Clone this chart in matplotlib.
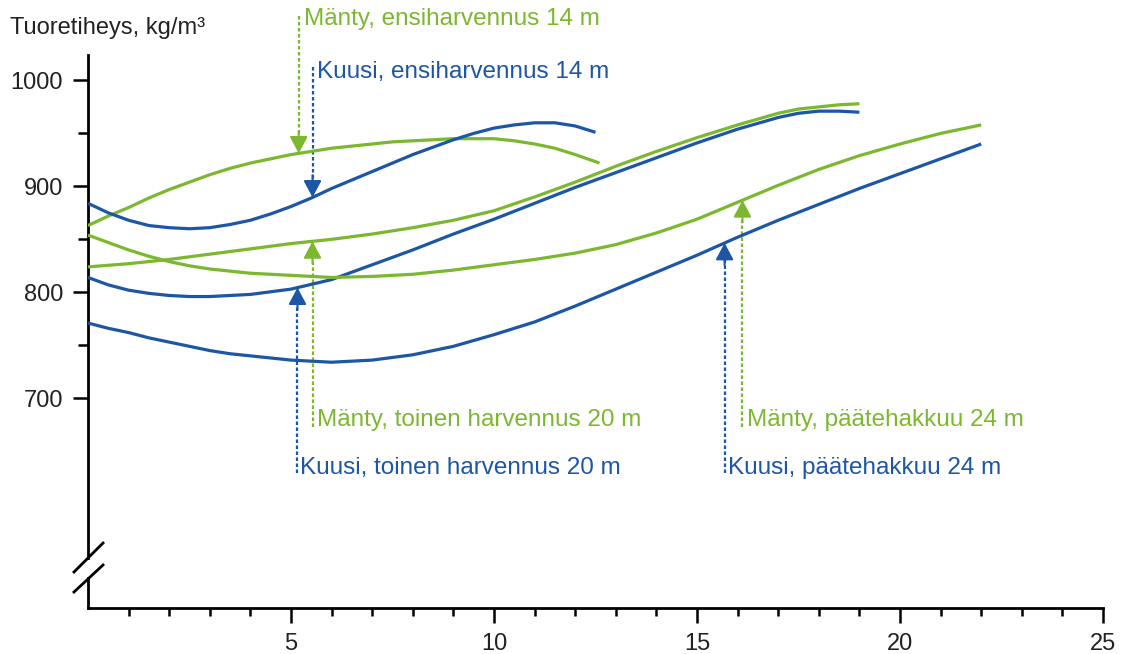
import numpy as np
import matplotlib.pyplot as plt
from matplotlib.ticker import FixedLocator

plt.rcParams['font.family'] = ['Liberation Sans', 'DejaVu Sans']

BLUE = "#1d56a5"
GREEN = "#7cb82f"

# age (x) and fresh density (kg/m3)
manty_ensi_x = [0, 0.5, 1, 1.5, 2, 2.5, 3, 3.5, 4, 4.5, 5, 5.5, 6, 6.5, 7, 7.5, 8, 8.5, 9,
                9.5, 10, 10.5, 11, 11.5, 12, 12.6]
manty_ensi_y = [863, 872, 880, 889, 897, 904, 911, 917, 922, 926, 930, 933, 936, 938, 940,
                942, 943, 944, 945, 945, 945, 943, 940, 936, 930, 922]

kuusi_ensi_x = [0, 0.5, 1, 1.5, 2, 2.5, 3, 3.5, 4, 4.5, 5, 5.5, 6, 6.5, 7, 7.5, 8, 8.5, 9,
                9.5, 10, 10.5, 11, 11.5, 12, 12.5]
kuusi_ensi_y = [884, 875, 868, 863, 861, 860, 861, 864, 868, 874, 881, 889, 898, 906, 914,
                922, 930, 937, 944, 950, 955, 958, 960, 960, 957, 951]

manty_toinen_x = [0, 1, 2, 3, 4, 5, 6, 7, 8, 9, 10, 11, 12, 13, 14, 15, 16, 17, 17.5, 18,
                  18.5, 19]
manty_toinen_y = [824, 827, 831, 836, 841, 846, 850, 855, 861, 868, 877, 890, 904, 919, 933,
                  946, 958, 969, 973, 975, 977, 978]

kuusi_toinen_x = [0, 0.5, 1, 1.5, 2, 2.5, 3, 3.5, 4, 5, 6, 7, 8, 9, 10, 11, 12, 13, 14, 15,
                  16, 17, 17.5, 18, 18.5, 19]
kuusi_toinen_y = [814, 807, 802, 799, 797, 796, 796, 797, 798, 803, 812, 826, 840, 855, 869,
                  884, 899, 913, 927, 941, 954, 965, 969, 971, 971, 970]

manty_paate_x = [0, 0.5, 1, 1.5, 2, 2.5, 3, 4, 5, 6, 7, 8, 9, 10, 11, 12, 13, 14, 15, 16,
                 17, 18, 19, 20, 21, 22]
manty_paate_y = [854, 847, 840, 834, 829, 825, 822, 818, 816, 814, 815, 817, 821, 826, 831,
                 837, 845, 856, 869, 885, 901, 916, 929, 940, 950, 958]

kuusi_paate_x = [0, 0.5, 1, 1.5, 2, 2.5, 3, 3.5, 4, 5, 6, 7, 8, 9, 10, 11, 12, 13, 14, 15,
                 16, 17, 18, 19, 20, 21, 22]
kuusi_paate_y = [771, 766, 762, 757, 753, 749, 745, 742, 740, 736, 734, 736, 741, 749, 760,
                 772, 787, 803, 819, 835, 852, 868, 883, 898, 912, 926, 940]

curves = [
    (manty_ensi_x, manty_ensi_y, GREEN),
    (kuusi_ensi_x, kuusi_ensi_y, BLUE),
    (manty_toinen_x, manty_toinen_y, GREEN),
    (kuusi_toinen_x, kuusi_toinen_y, BLUE),
    (manty_paate_x, manty_paate_y, GREEN),
    (kuusi_paate_x, kuusi_paate_y, BLUE),
]

# annotations: label, arrow x, label x, label y, end of the dashed line
labels = ["Mänty, ensiharvennus 14 m", "Kuusi, ensiharvennus 14 m",
          "Mänty, toinen harvennus 20 m", "Kuusi, toinen harvennus 20 m",
          "Mänty, päätehakkuu 24 m", "Kuusi, päätehakkuu 24 m"]
arrow_x = [5.19, 5.53, 5.53, 5.16, 16.12, 15.68]
label_x = [5.33, 5.65, 5.65, 5.22, 16.22, 15.76]
label_y = [1058, 1008, 679, 634, 679, 634]
line_end_y = [1061, 1013, 673, 629, 673, 629]

fig = plt.figure(figsize=(11.21, 6.54), dpi=100)
ax = fig.add_axes([88 / 1121, 1 - 608 / 654, 1015 / 1121, 553 / 654])

for x, y, c in curves:
    ax.plot(x, y, color=c, lw=2.3, solid_capstyle='butt', solid_joinstyle='round', zorder=3)

for i, lab in enumerate(labels):
    cx, cy, c = curves[i]
    tip = np.interp(arrow_x[i], cx, cy)
    down = line_end_y[i] > tip
    ax.plot([arrow_x[i], arrow_x[i]], [line_end_y[i], tip + (8 if down else -8)],
            color=c, lw=1.6, linestyle=(0, (1.6, 1.1)), clip_on=False, zorder=2)
    ax.annotate('', xy=(arrow_x[i], tip), xytext=(0, 16 if down else -16),
                textcoords='offset points',
                arrowprops=dict(arrowstyle='-|>,head_length=0.6,head_width=0.32',
                                mutation_scale=17, color=c, lw=1.5, shrinkA=0, shrinkB=0),
                annotation_clip=False, zorder=4)
    ax.text(label_x[i], label_y[i], lab, color=c, fontsize=17.5, va='center', ha='left',
            clip_on=False)

ax.set_xlim(0, 25)
ax.set_ylim(502, 1024)

ax.xaxis.set_major_locator(FixedLocator([5, 10, 15, 20, 25]))
ax.xaxis.set_minor_locator(FixedLocator(list(range(1, 25))))
ax.yaxis.set_major_locator(FixedLocator([700, 800, 900, 1000]))
ax.yaxis.set_minor_locator(FixedLocator([750, 850, 950]))

ax.tick_params(axis='both', which='major', labelsize=17, labelcolor='#222222', width=1.8)
ax.tick_params(axis='x', which='major', length=11, pad=7)
ax.tick_params(axis='x', which='minor', length=6, width=1.8)
ax.tick_params(axis='y', which='major', length=11, pad=7)
ax.tick_params(axis='y', which='minor', length=7, width=1.8)

for s in ['top', 'right', 'left']:
    ax.spines[s].set_visible(False)
ax.spines['bottom'].set_linewidth(2)

# broken y axis
ax.plot([0, 0], [0, 0.054], transform=ax.transAxes, color='black', lw=2, clip_on=False)
ax.plot([0, 0], [0.090, 1], transform=ax.transAxes, color='black', lw=2, clip_on=False)
ax.plot([-0.0138, 0.0148], [0.0651, 0.1175], transform=ax.transAxes, color='black', lw=2,
        clip_on=False)
ax.plot([-0.0138, 0.0148], [0.0289, 0.0778], transform=ax.transAxes, color='black', lw=2,
        clip_on=False)

fig.text(10 / 1121, 1 - 28 / 654, "Tuoretiheys, kg/m³", fontsize=17, va='center',
         ha='left', color='#222222')

fig.savefig("out.png", dpi=100)
